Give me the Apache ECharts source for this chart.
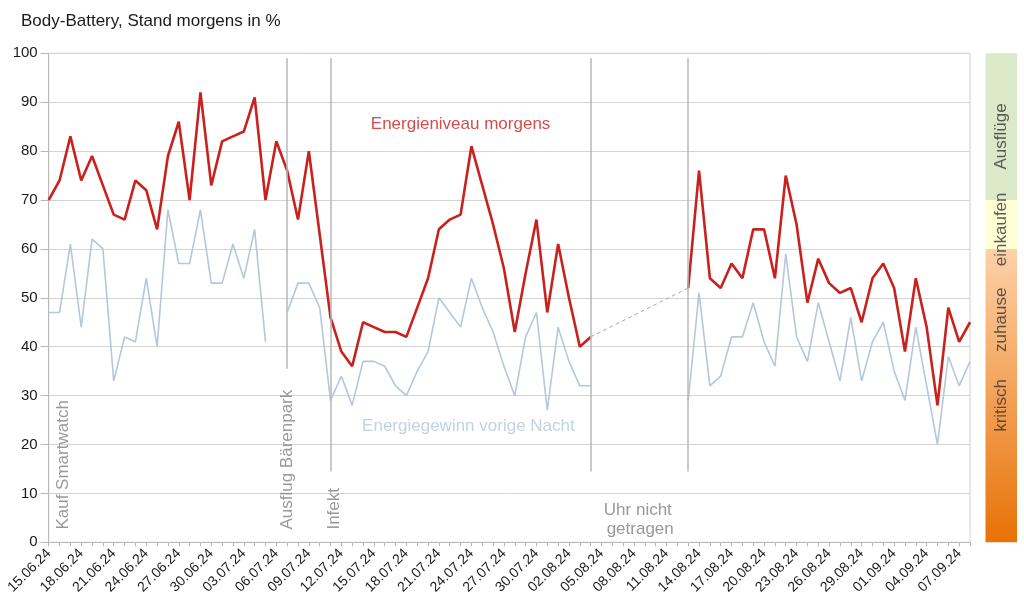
<!DOCTYPE html>
<html><head><meta charset="utf-8">
<script src="https://cdn.jsdelivr.net/npm/echarts@6/dist/echarts.min.js"></script>
<style>html,body{margin:0;padding:0;background:#fff}#c{width:1024px;height:615px}</style>
</head><body><div id="c"></div>
<script>
const dates = ["15.06.24","16.06.24","17.06.24","18.06.24","19.06.24","20.06.24","21.06.24","22.06.24","23.06.24","24.06.24","25.06.24","26.06.24","27.06.24","28.06.24","29.06.24","30.06.24",
"01.07.24","02.07.24","03.07.24","04.07.24","05.07.24","06.07.24","07.07.24","08.07.24","09.07.24","10.07.24","11.07.24","12.07.24","13.07.24","14.07.24","15.07.24","16.07.24","17.07.24","18.07.24","19.07.24","20.07.24","21.07.24","22.07.24","23.07.24","24.07.24","25.07.24","26.07.24","27.07.24","28.07.24","29.07.24","30.07.24","31.07.24",
"01.08.24","02.08.24","03.08.24","04.08.24","05.08.24","06.08.24","07.08.24","08.08.24","09.08.24","10.08.24","11.08.24","12.08.24","13.08.24","14.08.24","15.08.24","16.08.24","17.08.24","18.08.24","19.08.24","20.08.24","21.08.24","22.08.24","23.08.24","24.08.24","25.08.24","26.08.24","27.08.24","28.08.24","29.08.24","30.08.24","31.08.24",
"01.09.24","02.09.24","03.09.24","04.09.24","05.09.24","06.09.24","07.09.24","08.09.24"];
const morning = [70,74,83,74,79,73,67,66,74,72,64,79,86,70,92,73,82,83,84,91,70,82,76,66,80,63,46,39,36,45,44,43,43,42,48,54,64,66,67,81,73,65,56,43,55,66,47,61,50,40,42,
null,null,null,null,null,null,null,null,
52,76,54,52,57,54,64,64,54,75,65,49,58,53,51,52,45,54,57,52,39,54,44,28,48,41,45];
const night = [47,47,61,44,62,60,33,42,41,54,40,68,57,57,68,53,53,61,54,64,41,null,47,53,53,48,29,34,28,37,37,36,32,30,35,39,50,47,44,54,48,43,36,30,42,47,27,44,37,32,32,
null,null,null,null,null,null,null,null,
29,51,32,34,42,42,49,41,36,59,42,37,49,41,33,46,33,41,45,35,29,44,32,20,38,32,37];
const gapFrom = 50, gapTo = 59;
const yTicks = {min:0, max:100, step:10};
// event markers: day index, line top, line bottom
const eventIdx = [22, 26, 50, 59];
const eventTop = [99, 99, 99, 99];
const eventBottom = [35.5, 14.5, 14.5, 14.5];
// notes
const noteText = ["Kauf Smartwatch","Ausflug Bärenpark","Infekt"];
const noteIdx = [1, 22, 26];
const noteVal = [2.6, 2.6, 2.6];
const watchOffText = "Uhr nicht\n getragen";
const watchOffPos = [55, 4.9];
const redLabel = "Energieniveau morgens", redLabelPos = [38, 85.5];
const blueLabel = "Energiegewinn vorige Nacht", blueLabelPos = [39, 24];
// side scale bands
const bandNames = ["zuhause/kritisch","einkaufen","Ausflüge"];
const bandSizes = [60, 10, 30];
const bandLabels = ["Ausflüge","einkaufen","zuhause","kritisch"];
const bandLabelPos = [83, 64, 45.5, 28];

const FONT = "'Liberation Sans', Arial, sans-serif";
const gapLine = dates.map((d,i)=> (i===gapFrom||i===gapTo) ? morning[i] : null);
const noteOffsets = [[0,4],[0,0],[0,4]];

const chart = echarts.init(document.getElementById('c'), null, {renderer:'canvas'});
const noteData = noteText.map((t,i)=>({value:[noteIdx[i], noteVal[i]], name:t, label:{offset:noteOffsets[i]}}));
chart.setOption({
  animation:false,
  textStyle:{fontFamily:FONT},
  title:{text:"Body-Battery, Stand morgens in %", left:16, top:8,
    textStyle:{fontFamily:FONT, fontSize:17, fontWeight:'normal', color:'#1a1a1a'}},
  grid:[
    {left:48.7, right:54, top:53.3, bottom:72.7, show:true, borderColor:'#d0d0d0', borderWidth:1},
    {left:985.5, width:31.5, top:53.3, bottom:72.7}
  ],
  xAxis:[
    {type:'category', gridIndex:0, data:dates, boundaryGap:false,
     axisLine:{lineStyle:{color:'#b8b8b8'}},
     axisTick:{show:true, interval:0, length:4, lineStyle:{color:'#b8b8b8'}},
     axisLabel:{interval:2, rotate:45, fontSize:14, color:'#1a1a1a', margin:9, fontFamily:FONT},
     splitLine:{show:false}},
    {type:'category', gridIndex:1, data:['s'], show:false}
  ],
  yAxis:[
    {type:'value', gridIndex:0, min:yTicks.min, max:yTicks.max, interval:yTicks.step,
     axisLine:{show:true, lineStyle:{color:'#b8b8b8'}},
     axisTick:{show:true, length:8, lineStyle:{color:'#b8b8b8'}},
     axisLabel:{fontSize:15, color:'#1a1a1a', margin:11, fontFamily:FONT},
     splitLine:{lineStyle:{color:'#d4d4d4'}}},
    {type:'value', gridIndex:1, min:0, max:100, show:false}
  ],
  series:[
    {type:'line', name:'night', data:night, xAxisIndex:0, yAxisIndex:0, symbol:'none',
     lineStyle:{color:'#b4c7dc', width:1.6}, itemStyle:{color:'#b4c7dc'}, z:2,
     markLine:{silent:true, symbol:'none', label:{show:false},
       lineStyle:{color:'#b8b8b8', width:1.5, type:'solid'},
       data: eventIdx.map((e,i)=>[{coord:[dates[e], eventTop[i]]},{coord:[dates[e], eventBottom[i]]}])}},
    {type:'line', name:'gap', data:gapLine, connectNulls:true, symbol:'none',
     lineStyle:{color:'#aaaaaa', width:1, type:[4,3]}, z:2},
    {type:'line', name:'morning', data:morning, symbol:'none',
     lineStyle:{color:'#c9211e', width:2.6}, itemStyle:{color:'#c9211e'}, z:3},
    {type:'scatter', name:'notes', symbolSize:0, data:noteData, z:4,
     label:{show:true, position:'inside', rotate:90, align:'left', verticalAlign:'middle',
       formatter:p=>p.name, color:'#808080', fontSize:17, fontFamily:FONT}},
    {type:'scatter', name:'texts', symbolSize:0, z:4,
     data:[
       {value:watchOffPos, name:watchOffText, label:{color:'#808080', fontSize:17, lineHeight:19, align:'center', offset:[-7,1]}},
       {value:redLabelPos, name:redLabel, label:{color:'#c9211e', fontSize:17, offset:[0,0]}},
       {value:blueLabelPos, name:blueLabel, label:{color:'#b4c7dc', fontSize:17, offset:[-3,1]}}
     ],
     label:{show:true, position:'inside', formatter:p=>p.name, fontFamily:FONT, align:'center', verticalAlign:'middle'}},
    {type:'bar', xAxisIndex:1, yAxisIndex:1, stack:'band', barWidth:'100%', data:[bandSizes[0]], name:bandNames[0],
     itemStyle:{color:new echarts.graphic.LinearGradient(0,1,0,0,[{offset:0,color:'#e87206'},{offset:1,color:'#fdd1aa'}])}},
    {type:'bar', xAxisIndex:1, yAxisIndex:1, stack:'band', barWidth:'100%', data:[bandSizes[1]], name:bandNames[1],
     itemStyle:{color:'#ffffd6'}},
    {type:'bar', xAxisIndex:1, yAxisIndex:1, stack:'band', barWidth:'100%', data:[bandSizes[2]], name:bandNames[2],
     itemStyle:{color:'#dbe9c8'}},
    {type:'scatter', xAxisIndex:1, yAxisIndex:1, symbolSize:0, z:5,
     data:bandLabels.map((t,i)=>({value:['s', bandLabelPos[i]], name:t})),
     label:{show:true, position:'inside', rotate:90, align:'center', verticalAlign:'middle',
       formatter:p=>p.name, color:'#333333', fontSize:17, fontFamily:FONT}}
  ]
});
</script></body></html>
